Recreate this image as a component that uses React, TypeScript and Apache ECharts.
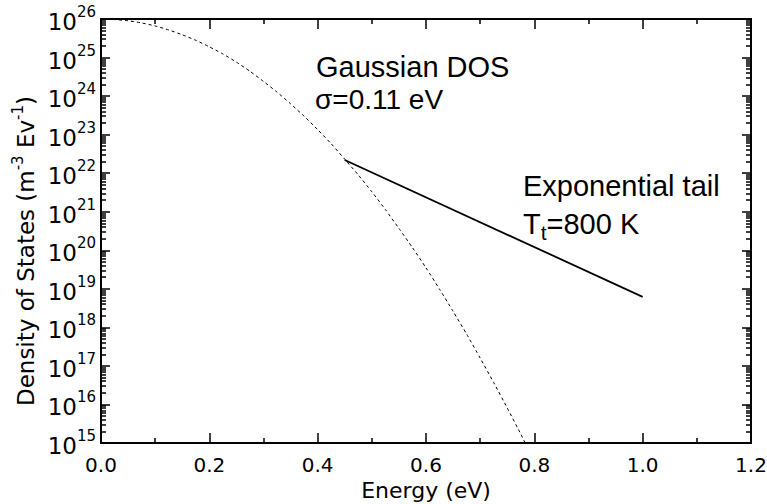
import React, { useEffect, useRef } from "react";
import * as echarts from "echarts";

// Gaussian density of states (dashed) sampled along the energy axis
const energy = [
  0, 0.025, 0.05, 0.075, 0.1, 0.125, 0.15, 0.175, 0.2, 0.225, 0.25, 0.275,
  0.3, 0.325, 0.35, 0.375, 0.4, 0.425, 0.45, 0.475, 0.5, 0.525, 0.55, 0.575,
  0.6, 0.625, 0.65, 0.675, 0.7, 0.725, 0.75, 0.775, 0.79,
];
const gaussianDos = [
  1.0e26, 9.7e25, 9.0e25, 7.9e25, 6.6e25, 5.2e25, 3.9e25, 2.8e25, 1.9e25,
  1.24e25, 7.6e24, 4.4e24, 2.4e24, 1.27e24, 6.3e23, 3.0e23, 1.35e23, 5.8e22,
  2.3e22, 9.0e21, 3.3e21, 1.14e21, 3.7e20, 1.17e20, 3.5e19, 9.8e18, 2.6e18,
  6.7e17, 1.6e17, 3.7e16, 8.1e15, 1.7e15, 6.3e14,
];

// Exponential tail (solid), straight on the log axis
const tailEnergy = [0.45, 1.0];
const tailDos = [2.2e22, 6.2e18];

// Axis ranges and ticks
const xRange = [0, 1.2];
const xMajorTicks = [0, 0.2, 0.4, 0.6, 0.8, 1.0, 1.2];
const xMinorTicks = [0.1, 0.3, 0.5, 0.7, 0.9, 1.1];
const yRange = [1e15, 1.0001e26];
const yDecades = [1e15, 1e16, 1e17, 1e18, 1e19, 1e20, 1e21, 1e22, 1e23, 1e24, 1e25, 1e26];
const minorMultipliers = [2, 3, 4, 5, 6, 7, 8, 9];

// Annotation texts
const gaussLabel = "Gaussian DOS";
const sigmaLabel = "\u03c3=0.11 eV";
const tailLabel = "Exponential tail";
const tempLabel = "{m|T}{sub|t}{m|=800 K}";
const xName = "Energy (eV)";
const yName = "{n|Density of States (m}{sup|-3}{n| Ev}{sup|-1}{n|)}";

const AXIS_FONT = "DejaVu Sans";
const NOTE_FONT = "Liberation Sans";

// minor log ticks at 2..9 of each decade
const yMinorTicks: number[] = [];
yDecades.slice(0, -1).forEach((d) => {
  minorMultipliers.forEach((k) => yMinorTicks.push(k * d));
});

export default function App() {
  const ref = useRef<HTMLDivElement>(null);

  useEffect(() => {
    if (!ref.current) return;
    const chart = echarts.init(ref.current, undefined, { renderer: "svg" });
    const black = "#000";

    const xAxis = (position: string, ticks: number[], length: number, withLabels: boolean) => ({
      type: "value",
      position,
      min: xRange[0],
      max: xRange[1],
      interval: 0.2,
      axisLine: { show: false, onZero: false },
      axisTick: { show: true, inside: true, length, customValues: ticks, lineStyle: { color: black, width: 1.5 } },
      splitLine: { show: false },
      axisLabel: withLabels
        ? {
            show: true,
            color: black,
            fontFamily: AXIS_FONT,
            fontSize: 20,
            margin: 12,
            formatter: (v: number) => v.toFixed(1),
          }
        : { show: false },
    });

    const yAxis = (position: string, ticks: number[], length: number, withLabels: boolean) => ({
      type: "log",
      position,
      min: yRange[0],
      max: yRange[1],
      axisLine: { show: false, onZero: false },
      axisTick: { show: true, inside: true, length, customValues: ticks, lineStyle: { color: black, width: 1.5 } },
      splitLine: { show: false },
      axisLabel: withLabels
        ? {
            show: true,
            margin: 5,
            customValues: yDecades,
            formatter: (v: number) => `{b|10}{s|${Math.round(Math.log10(v))}}`,
            rich: {
              b: { color: black, fontFamily: AXIS_FONT, fontSize: 23, lineHeight: 20, verticalAlign: "bottom" },
              s: { color: black, fontFamily: AXIS_FONT, fontSize: 15, verticalAlign: "top", padding: [0, 0, 14, 0] },
            },
          }
        : { show: false },
    });

    chart.setOption({
      animation: false,
      backgroundColor: "#fff",
      grid: {
        left: 101,
        right: 16,
        top: 19,
        bottom: 61,
        outerBoundsMode: "none",
        show: true,
        borderColor: black,
        borderWidth: 2,
        backgroundColor: "transparent",
      },
      xAxis: [
        {
          ...xAxis("bottom", xMajorTicks, 10, true),
          name: xName,
          nameLocation: "middle",
          nameGap: 34,
          nameTextStyle: { color: black, fontFamily: AXIS_FONT, fontSize: 22 },
        },
        xAxis("bottom", xMinorTicks, 5, false),
        xAxis("top", xMajorTicks, 10, false),
        xAxis("top", xMinorTicks, 5, false),
      ],
      yAxis: [
        yAxis("left", yDecades, 9, true),
        yAxis("left", yMinorTicks, 5, false),
        yAxis("right", yDecades, 9, false),
        yAxis("right", yMinorTicks, 5, false),
      ],
      graphic: [
        {
          type: "text",
          x: 24,
          y: 251,
          rotation: Math.PI / 2,
          style: {
            text: yName,
            align: "center",
            verticalAlign: "middle",
            rich: {
              n: { fill: black, fontFamily: AXIS_FONT, fontSize: 23, lineHeight: 22, verticalAlign: "bottom" },
              sup: { fill: black, fontFamily: AXIS_FONT, fontSize: 15, verticalAlign: "top", padding: [0, 0, 12, 0] },
            },
          },
        },
        {
          type: "text",
          x: 316,
          y: 67,
          style: { text: gaussLabel, fill: black, fontFamily: NOTE_FONT, fontSize: 29, align: "left", verticalAlign: "middle" },
        },
        {
          type: "text",
          x: 315,
          y: 99,
          style: { text: sigmaLabel, fill: black, fontFamily: NOTE_FONT, fontSize: 28, align: "left", verticalAlign: "middle" },
        },
        {
          type: "text",
          x: 523,
          y: 186,
          style: { text: tailLabel, fill: black, fontFamily: NOTE_FONT, fontSize: 29, align: "left", verticalAlign: "middle" },
        },
        {
          type: "text",
          x: 523,
          y: 226,
          style: {
            text: tempLabel,
            align: "left",
            verticalAlign: "middle",
            rich: {
              m: { fill: black, fontFamily: NOTE_FONT, fontSize: 29, lineHeight: 29, verticalAlign: "top" },
              sub: { fill: black, fontFamily: NOTE_FONT, fontSize: 21, verticalAlign: "bottom", padding: [12, 0, 0, 0] },
            },
          },
        },
      ],
      series: [
        {
          type: "line",
          name: "Gaussian DOS",
          xAxisIndex: 0,
          yAxisIndex: 0,
          data: energy.map((e, i) => [e, gaussianDos[i]]),
          showSymbol: false,
          symbol: "none",
          smooth: 0.2,
          clip: true,
          lineStyle: { color: black, width: 1, type: [3, 3] },
          z: 3,
        },
        {
          type: "line",
          name: "Exponential tail",
          xAxisIndex: 0,
          yAxisIndex: 0,
          data: tailEnergy.map((e, i) => [e, tailDos[i]]),
          showSymbol: false,
          symbol: "none",
          clip: true,
          lineStyle: { color: black, width: 1.8 },
          z: 4,
        },
      ],
    });

    return () => chart.dispose();
  }, []);

  return (
    <div
      ref={ref}
      style={{ position: "absolute", left: 0, top: 0, width: 767, height: 504, background: "#fff" }}
    />
  );
}
